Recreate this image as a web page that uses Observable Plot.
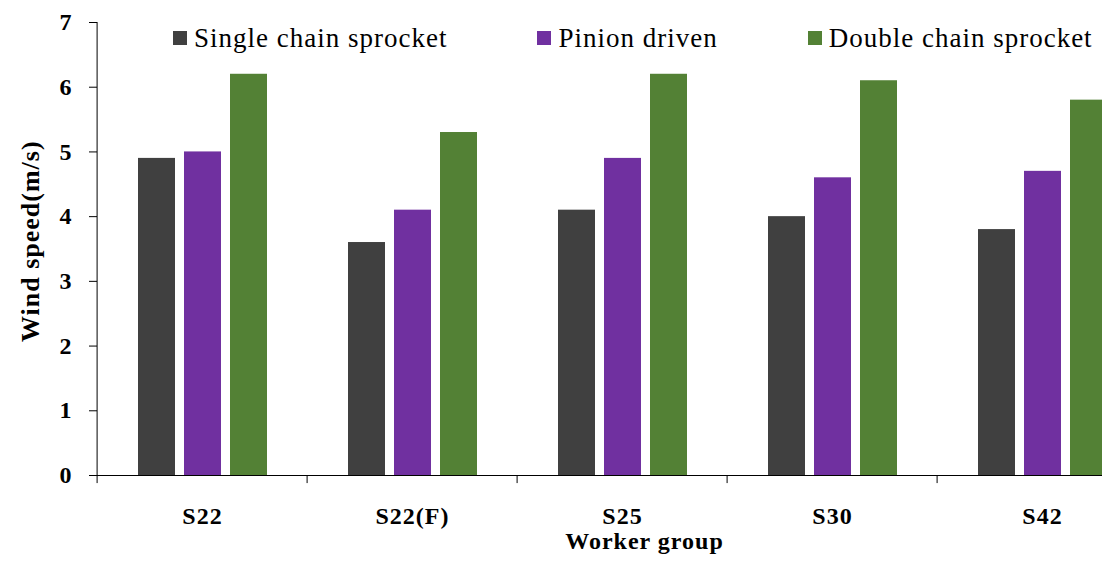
<!DOCTYPE html>
<html>
<head>
<meta charset="utf-8">
<script src="https://cdn.jsdelivr.net/npm/d3@7"></script>
<script src="https://cdn.jsdelivr.net/npm/@observablehq/plot@0.6"></script>
<style>
  html, body { margin: 0; padding: 0; background: white; overflow: hidden; }
  #wrap { position: relative; width: 1102px; height: 561px; overflow: hidden; }
  #legend { position: absolute; left: 173px; top: 22px; }
  .lg-swatches { font-family: "Liberation Serif", "Times New Roman", serif !important; font-size: 27px !important; letter-spacing: 1px; color: #000; margin: 0 !important; }
  .lg-swatches-wrap { min-height: 32px !important; flex-wrap: nowrap !important; }
  .lg-swatch { margin-right: 90px !important; white-space: nowrap; }
  .lg-swatch > svg { margin-right: 7px !important; }
</style>
</head>
<body>
<div id="wrap"><div id="chart"></div><div id="legend"></div></div>
<script>
const categories = ["S22", "S22(F)", "S25", "S30", "S42"];
const series = ["Single chain sprocket", "Pinion driven", "Double chain sprocket"];
const singleChain = [4.9, 3.6, 4.1, 4.0, 3.8];
const pinionDriven = [5.0, 4.1, 4.9, 4.6, 4.7];
const doubleChain = [6.2, 5.3, 6.2, 6.1, 5.8];
const yTicks = [0, 1, 2, 3, 4, 5, 6, 7];
const colors = ["#404040", "#7030A0", "#538135"];

const seriesValues = [singleChain, pinionDriven, doubleChain];
const table = [];
categories.forEach((c, i) => {
  series.forEach((s, j) => table.push({group: c, series: s, value: seriesValues[j][i]}));
});

const serif = "'Liberation Serif', 'Times New Roman', serif";
const half = 105.4;

const chart = Plot.plot({
  width: 1102,
  height: 561,
  marginLeft: 95,
  marginRight: -47,
  marginTop: 22,
  marginBottom: 86,
  style: {fontFamily: serif, fontWeight: "bold", color: "#000", background: "white"},
  fx: {domain: categories, padding: 0, paddingOuter: 0, label: null},
  x: {domain: series, paddingInner: 0.2, paddingOuter: 0.87, axis: null},
  y: {domain: [0, 7], label: null},
  color: {domain: series, range: colors},
  marks: [
    Plot.barY(table, {fx: "group", x: "series", y: "value", fill: "series"}),
    Plot.ruleY([0], {stroke: "#000", strokeWidth: 1}),
    Plot.ruleX([categories[0]], {fx: d => d, x: null, y1: -0.125, y2: 7, dx: -half, stroke: "#000"}),
    Plot.ruleX(categories.slice(1), {fx: d => d, x: null, y1: 0, y2: -0.125, dx: -half, stroke: "#000"}),
    Plot.axisY({ticks: yTicks, tickSize: 8, tickPadding: 17, fontSize: 24, fontWeight: "bold", label: null, tickFormat: d3.format("d")}),
    Plot.axisFx({anchor: "bottom", tickSize: 0, tickPadding: 31, fontSize: 24, fontWeight: "bold", label: null}),
    Plot.text(["Wind speed(m/s)"], {fx: [categories[0]], y: [3.62], frameAnchor: "left", textAnchor: "middle", lineAnchor: "middle", rotate: -90, dx: -67, fontSize: 26, fontWeight: "bold", fill: "#000"}),
    Plot.text(["Worker group"], {fx: [categories[2]], frameAnchor: "bottom", dx: 22, dy: 73, fontSize: 24, fontWeight: "bold", fill: "#000"})
  ]
});
chart.querySelectorAll("text").forEach(t => t.style.letterSpacing = "1px");
document.getElementById("chart").appendChild(chart);

const legend = Plot.legend({
  color: {type: "ordinal", domain: series, range: colors},
  swatchSize: 14,
  className: "lg"
});
document.getElementById("legend").appendChild(legend);
</script>
</body>
</html>
